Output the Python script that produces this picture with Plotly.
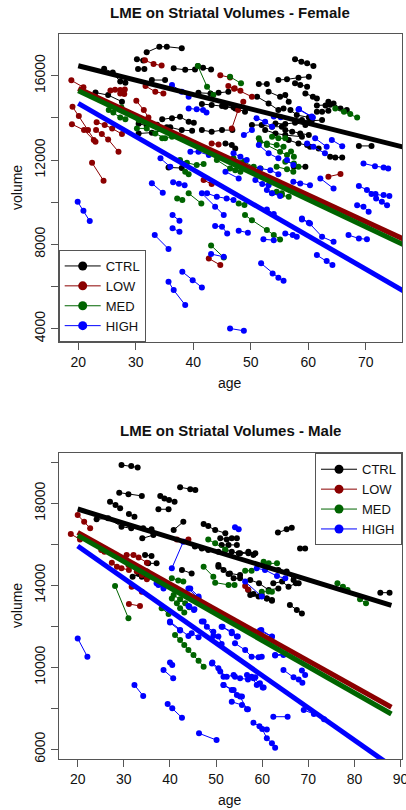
import plotly.graph_objects as go

# ---------------- data ----------------
GROUPS = ["CTRL", "LOW", "MED", "HIGH"]
COLORS = ["#000000", "#8B0000", "#006400", "#0000FF"]

# Female panel: each subject is a list of ages and a list of volumes
F_CTRL_AGE = [[31.9,34.1,35.4,38.0],[30.2,31.3],[30.4,31.5],[36.6,38.6,40.3],[40.8,41.7,43.1],
              [24.5,26.0,27.3,28.2],[32.8,35.1],[23.0,25.2,27.6],[40.9,43.0,44.4,46.1],[41.5,43.2,45.0,47.0],
              [34.6,36.3,37.7,39.2,40.1],[30.5,32.8,35.1],[36.0,38.0,39.8],[35.7,38.0],[45.6,46.7,47.3],
              [57.7,58.8,59.8,60.9],[51.4,52.8],[54.8,56.3,58.3,60.1],[57.7,58.6,59.8],[53.1,55.1,56.0,56.6],
              [59.5,60.8,61.5],[63.5,64.4,65.6,66.7],[61.5,62.4,63.5],[51.1,53.1,54.8,55.7],[45.6,47.3,49.0],
              [50.2,51.9,53.7,55.4],[54.3,56.0,57.7,59.5],[56.0,57.2,58.6,60.1],[52.5,54.3,56.0,58.9],
              [58.9,60.6,62.4],[56.6,58.3,59.8],[60.3,61.8],[56.9,58.0,60.1],[68.8,71.0],[63.8,64.7,65.9],
              [57.5,59.5],[61.5,63.0,63.8],[30.5,31.9,33.7,35.4],[41.5,43.2,45.0,46.8]]
F_CTRL_VOL = [[17110,17376,17376,17300],[16780,16720],[16320,16320],[16350,16280,16300],[16460,16380,16300],
              [16330,16150,15720,15670],[15795,15795],[15200,15080,14770],[15190,15160,15190,15240],[14660,14610,14560,14500],
              [13930,13980,14050,13820,13770],[13260,13300,13420],[13550,13420,13390],[11650,11620],[12790,12710,12550],
              [16776,16665,16586,16460],[15605,15605],[15795,15827,15906,15953],[15637,15558,15479],[15241,15004,15083,14767],
              [15162,15004,14925],[14767,14688,14450,14371],[14292,14292,14340],[15004,14688,14371,14450],[14530,14450,14292],
              [13660,13660,13580,13580],[13739,13707,13770,13660],[13422,13343,13264,13185],[13422,13264,13185,13106],
              [13897,13865,13897],[12947,12789,12710],[12631,12552],[14371,14134,14023],[12670,12670],[12157,12125,12125],
              [11680,11680],[14590,14590,14620],[13716,13640,13670,13560],[13420,13340,13420,13420]]

F_LOW_AGE = [[18.8,20.9],[19.0,20.1,21.7,23.0],[18.9,21.0,22.7],[23.2,24.6,25.9,27.6],[23.1,24.1,25.2,27.0],
             [22.4,24.4],[25.6,26.4,27.3,28.1],[27.3,28.0],[30.1,31.4,32.2],[31.7,33.4,34.8],[31.6,33.1,34.5],
             [44.7,46.4],[46.1,47.1,48.2],[46.7,47.8,48.7],[47.2,50.2],[63.5,65.6],[41.8,43.2],[43.2,44.4],[42.7,44.7]]
F_LOW_VOL = [[15780,15450],[14530,14090,13420,12870],[13700,13420,12950],[13790,13660,13500,13230],[13420,13230,12980,12390],
             [11870,11020],[15300,15330,15320,15350],[15160,15130],[14810,14370,14020],[15510,15240,15160],[16730,16560,16480],
             [16020,15920],[15510,15380,15290],[13500,14370,14770],[15400,15000],[11210,11340],[11050,10860],[12790,12740],[7330,7020]]

F_MED_AGE = [[40.8,42.4,43.5],[46.4,48.3],[64.7,66.2,67.3,68.5],[25.3,26.1,27.3,28.2],[30.2,31.9,33.4,35.1],
             [34.6,36.3,38.6],[38.6,39.2],[51.4,52.8,55.1,56.3],[53.7,54.8,56.0],[47.0,48.8,50.5,51.7],
             [56.0,57.5,58.3],[37.7,38.9,40.6,41.8],[44.1,46.4,47.3,48.2],[51.6,52.8,54.5,55.7],[57.0,57.5],
             [54.5,56.3,57.4],[54.5,55.4],[37.2,38.1],[39.2,41.4],[43.1,45.3],[47.9,48.9],
             [49.0,50.2,52.8,54.0,55.1],[27.5,29.0,30.5],[53.7,55.4,56.6]]
F_MED_VOL = [[16460,15480,15080],[15950,15640],[14450,14290,14180,14020],[14370,14250,14020,13930],[13500,13500,13260,13030],
             [13030,13110,12950],[11450,11330],[13030,12710,12390,12240],[13110,13030,13030],[12080,11920,11680,11600],
             [11920,11840,11680],[12000,11870,11760,11810],[12000,11600,11520,11440],[12870,12790,12710,12630],[12400,12160],
             [11680,11560,11440],[10500,10420],[10180,10100],[10420,9940],[7950,7380],[9940,9870],
             [9390,9150,8680,8440,8235],[14500,14200,13900],[10420,10340,10260]]

F_HIGH_AGE = [[19.9,20.9,22.0],[32.8,34.7],[33.3,35.7],[36.4,37.6],[36.4,37.6],[35.7,36.6,38.6],[38.1,39.9,41.5],
              [43.1,45.3],[43.8,45.0,45.9],[41.5,43.8,45.3],[47.9,49.5],[46.4,48.8],[51.8,53.8,54.8,55.7],
              [52.2,54.0],[56.0,57.3,58.0],[58.9,60.1,62.4,64.4],[61.5,63.2,64.2],[67.0,68.8,70.2],[68.5,69.6,70.5],
              [68.8,70.2,71.7],[71.0,73.1,74.1],[71.8,72.8,73.7],[69.6,71.6,73.1,73.9],[62.1,64.4],[61.2,63.2],
              [64.1,65.9],[58.3,60.8],[48.8,50.2],[51.4,53.1,54.8],[51.6,53.4,54.8],[45.6,47.9],[50.8,52.0,53.1],
              [36.3,38.0,39.2],[39.2,40.6,41.7,42.3],[54.0,55.2],[58.4,60.6],[34.3,36.0],[51.0,52.5,53.7],
              [39.5,40.9,42.7],[47.0,48.2,49.3],[42.4,44.1,45.8,47.0],[52.8,53.7,55.1],[57.4,58.6,60.3],
              [59.8,60.9,62.9],[56.3,57.4],[52.8,54.0],[58.9,60.3],[36.5,37.5,38.5]]
F_HIGH_VOL = [[10020,9595,9105],[10900,10450],[8440,7780],[9390,9120],[8760,8600],[6230,5830,5120],[6700,6300,5960],
              [7540,7410],[8870,8840,8520],[10420,9790,9390],[8650,8550],[4010,3900],[7100,6620,6420,6270],
              [8240,8200],[8520,8440,8360],[9180,9030,8360,8120],[7490,7210,7020],[8440,8280,8240],[9860,9790,9550],
              [10770,10580,10390],[10390,10340,10290],[10180,10020,9860],[11840,11710,11650,11600],[11130,10650],[13030,12630],
              [12950,12660],[14400,14020],[13190,13420],[12710,12320,12080],[11600,11520,11330],[11450,11130],[11050,10860,10810],
              [15560,15240,15000],[14450,14410,14370,14250],[14060,14030],[14420,14060],[12080,11680],[13980,13820,13580],
              [12390,12390,12240],[12320,12160,12000],[10420,10260,10180,10100],[10580,10420,10290],[10970,10890,10810],
              [12790,12630,12320],[12000,11760],[9660,9440],[9230,8990],[10950,10880,10800]]

# Male panel
M_CTRL_AGE = [[29.5,31.6,33.0],[29.0,31.0,33.9],[27.0,28.2,29.2],[31.1,32.3],[37.9,38.8,39.8,41.0],[37.5,39.7],
              [42.2,44.4,45.5],[40.8,42.9],[24.1,26.6,29.5,31.6],[34.2,36.0],[34.0,36.4],[34.6,36.0],[35.3,37.1],
              [31.9,33.2,35.0],[47.3,48.3,49.8,52.0],[50.9,52.3,53.4,54.5],[51.2,52.7,54.5],[45.4,46.9,48.3,50.5],
              [52.0,53.4,54.9,57.0,58.5],[50.5,51.6,52.7,53.8,55.2],[42.6,44.7],[63.4,65.3,66.4],[68.2,69.3],
              [62.4,64.3,65.7,67.3],[66.0,67.5,68.6],[85.6,87.6],[57.0,58.1,59.9,61.0,62.1],[50.5,53.0,55.2],
              [33.9,36.1],[55.2,57.0,58.1],[63.5,65.3,66.8,67.9],[57.4,59.3,61.4,63.5],[57.4,59.2,61.0,62.1]]
M_CTRL_VOL = [[19870,19820,19750],[18520,18440,18360],[18080,17920,17760],[17480,17350],[18360,18240,18160,18080],[17710,17710],
              [18780,18680,18650],[16700,17100],[17220,17270,16860,16780],[16780,16730],[16290,16450],[15480,15430],[15070,15070],
              [14420,14550,14670],[16990,16890,16700,16540],[16290,16240,16290,16290],[15970,15970,15970],[15890,15800,15720,15640],
              [15720,15640,15560,15640,15560],[14910,14750,14550,14340,14340],[14750,14580],[16570,16730,16810],[15800,15800],
              [14100,14180,13930,14100],[13040,12800,12630],[13640,13640],[13770,13580,13530,13360,13250],[14990,14580,14500],
              [14420,14420],[15560,15560,15480],[14750,14670,14260,14100],[14260,14100,13770,13850],[13530,13450,13360,13280]]

M_LOW_AGE = [[20.0,21.4,22.7],[18.5,20.5],[25.1,25.8],[30.6,32.1,33.2,35.0],[27.4,28.5,29.5,31.1],[41.5,44.0],
             [31.7,33.9],[56.3,56.9],[31.0,32.8,33.9,35.0],[31.1,33.5]]
M_LOW_VOL = [[17430,17100,16780],[16500,16240],[15720,15640],[15480,15480,15360,15100],[15100,14910,14830,14750],[16240,16240],
             [13930,13690],[13970,13800],[14990,14670,14500,14290],[13090,12990]]

M_MED_AGE = [[28.1,31.0],[47.3,49.4],[49.8,52.7,54.0],[48.3,49.8,52.0],[56.3,57.7],[60.3,61.4,63.2],[40.4,41.8,42.9],
             [40.8,42.2,43.3,44.2],[76.3,77.5,78.5],[81.2,82.5],[40.4,41.5,42.2,43.1],
             [41.1,42.2,43.1,44.0,45.1,46.2,47.3],[38.2,39.7],[59.9,61.4,62.1]]
M_MED_VOL = [[13970,12390],[14910,14420],[14130,14020,14020],[16240,16050,15750],[14710,14710],[15150,15070,15070],[14340,14230,14180],
             [13530,13320,13120,12930],[14100,13930,13770],[13320,13120],[13360,13120,12880,12670],
             [11580,11330,11090,10840,10600,10320,10030],[12880,12600],[13690,13700,13680]]

M_HIGH_AGE = [[20.0,22.1],[32.3,34.2],[38.6,40.7],[40.0,40.5],[39.5,40.5,42.6],[46.3,50.1],[40.0,42.2],[44.0,45.3],
              [44.7,46.2],[47.3,49.4,50.5,51.2],[49.2,50.5,51.6],[51.6,53.4,54.5,55.6],[53.4,55.6,56.9],
              [51.4,53.4,54.7],[54.1,56.3,57.7,59.2,59.9],[54.1,55.2,56.9,58.5],[57.7,58.8,60.1],[59.5,62.1],
              [62.8,65.0],[64.6,66.8,67.9,68.7],[68.6,69.3],[62.4,65.5],[58.1,59.4,61.0],[60.0,61.0,62.1,62.8],
              [69.0,71.2,73.4],[49.1,50.9,52.3,53.8],[51.6,53.8,55.2,56.7],[56.7,58.1,59.5,60.3],[62.8,64.6],
              [54.1,54.9],[58.8,60.6,63.2,65.0],[56.3,59.9],[59.8,62.1],[37.5,38.6],[44.4,46.2],[40.4,42.9],
              [37.1,38.6],[44.0,46.2],[44.2,45.2],[40.0,42.2,44.0],[46.9,48.0,49.4],[51.2,53.4,54.5]]
M_HIGH_VOL = [[11410,10520],[9140,8600],[9870,9460],[10230,10110],[8210,8000,7540],[6780,6450],[12180,11790],[12990,12830],
              [11660,11460],[12230,11530,11500,11140],[10230,9950,9540],[9140,8890,8650,8570],[8320,8160,7950],
              [11980,11660,11500],[11170,10840,10520,10490,10520],[9540,9460,9410,9510],[9540,9140,9020],[11790,11500],
              [10600,10650],[9870,9510,9410,9250],[9840,9630],[7590,7590],[7300,7130,6970],[6990,6540,6290,6080],
              [7920,7720,7460],[10190,9790,9540,9620],[9140,8890,8570,7950],[9620,9460,9220,9020],[10570,10600],
              [16830,16730],[14830,14750,14450,14340],[14180,13450],[11820,11490],[14020,13930],[13850,13450],[14830,16130],
              [14100,13850],[13850,13360],[12960,12800],[12230,11820,11530],[12230,11980,11740],[11980,11740,11500]]

# fitted lines (age endpoints and fitted volumes)
REG_AGE = [20, 88]
F_REG = {"CTRL": [16474, 11830], "LOW": [15390, 6808], "MED": [15290, 6504], "HIGH": [14690, 3994]}
M_REG = {"CTRL": [17722, 13024], "LOW": [16584, 8049], "MED": [16437, 7722], "HIGH": [15917, 5180]}

F_XTICKS = [20, 30, 40, 50, 60, 70]
F_YTICKS = [4000, 6000, 8000, 10000, 12000, 14000, 16000]
F_YTEXT = ["4000", "", "8000", "", "12000", "", "16000"]
M_XTICKS = [20, 30, 40, 50, 60, 70, 80, 90]
M_YTICKS = [6000, 8000, 10000, 12000, 14000, 16000, 18000, 20000]
M_YTEXT = ["6000", "", "10000", "", "14000", "", "18000", ""]

F_XRANGE = [16.6, 76.3]
F_YRANGE = [3369, 17979]
M_XRANGE = [15.88, 90.3]
M_YRANGE = [5527, 20439]

FONT = "Liberation Sans, Arial, Helvetica, sans-serif"


def flatten(ages, vols):
    xs, ys = [], []
    for a, v in zip(ages, vols):
        xs += list(a) + [None]
        ys += list(v) + [None]
    return xs, ys


fig = go.Figure()

female = [(F_CTRL_AGE, F_CTRL_VOL), (F_LOW_AGE, F_LOW_VOL), (F_MED_AGE, F_MED_VOL), (F_HIGH_AGE, F_HIGH_VOL)]
male = [(M_CTRL_AGE, M_CTRL_VOL), (M_LOW_AGE, M_LOW_VOL), (M_MED_AGE, M_MED_VOL), (M_HIGH_AGE, M_HIGH_VOL)]

for panel, (groups, reg, xa, ya, leg) in enumerate([
        (female, F_REG, "x", "y", "legend"),
        (male, M_REG, "x2", "y2", "legend2")]):
    for g, (ages, vols) in enumerate(groups):
        xs, ys = flatten(ages, vols)
        fig.add_trace(go.Scatter(x=xs, y=ys, mode="lines+markers", xaxis=xa, yaxis=ya,
                                 line=dict(color=COLORS[g], width=1),
                                 marker=dict(color=COLORS[g], size=6),
                                 showlegend=False, hoverinfo="skip"))
    for g, name in enumerate(GROUPS):
        fig.add_trace(go.Scatter(x=REG_AGE, y=reg[name], mode="lines", xaxis=xa, yaxis=ya,
                                 line=dict(color=COLORS[g], width=5),
                                 showlegend=False, hoverinfo="skip"))
    for g, name in enumerate(GROUPS):
        fig.add_trace(go.Scatter(x=[None], y=[None], mode="lines+markers", name=name,
                                 xaxis=xa, yaxis=ya, legend=leg,
                                 line=dict(color=COLORS[g], width=1),
                                 marker=dict(color=COLORS[g], size=9)))

axis_common = dict(showline=True, mirror=True, linecolor="#555", linewidth=1,
                   ticks="outside", ticklen=7, tickcolor="#555", showgrid=False,
                   zeroline=False, automargin=False, ticklabeloverflow="allow",
                   tickfont=dict(family=FONT, size=14, color="#111"))

W, H = 406, 810
xdom = [58.7 / W, 402 / W]

legend_common = dict(bordercolor="#555", borderwidth=1, bgcolor="white", itemwidth=36,
                     font=dict(family=FONT, size=13, color="#111"), tracegroupgap=0)

fig.update_layout(
    width=W, height=H, margin=dict(l=0, r=0, t=0, b=0, autoexpand=False),
    paper_bgcolor="white", plot_bgcolor="white",
    font=dict(family=FONT, size=14, color="#111"),
    xaxis=dict(domain=xdom, range=F_XRANGE, tickvals=F_XTICKS, anchor="y", **axis_common),
    yaxis=dict(domain=[1 - 342 / H, 1 - 34 / H], range=F_YRANGE, tickvals=F_YTICKS, ticktext=F_YTEXT,
               tickangle=-90, anchor="x", **axis_common),
    xaxis2=dict(domain=xdom, range=M_XRANGE, tickvals=M_XTICKS, anchor="y2", **axis_common),
    yaxis2=dict(domain=[1 - 759 / H, 1 - 453.3 / H], range=M_YRANGE, tickvals=M_YTICKS, ticktext=M_YTEXT,
                tickangle=-90, anchor="x2", **axis_common),
    legend=dict(x=58.7 / W, y=1 - 342 / H, xanchor="left", yanchor="bottom", **legend_common),
    legend2=dict(x=402 / W, y=1 - 453.3 / H, xanchor="right", yanchor="top", **legend_common),
    showlegend=True,
)

xc = (xdom[0] + xdom[1]) / 2
annots = [
    dict(text="<b>LME on Striatal Volumes - Female</b>", x=xc, y=1 - 12.5 / H, font=dict(size=15)),
    dict(text="<b>LME on Striatal Volumes - Male</b>", x=xc, y=1 - 430 / H, font=dict(size=15)),
    dict(text="age", x=xc, y=1 - 382.5 / H, font=dict(size=14)),
    dict(text="age", x=xc, y=1 - 800 / H, font=dict(size=14)),
    dict(text="volume", x=17 / W, y=1 - 188 / H, textangle=-90, font=dict(size=14)),
    dict(text="volume", x=17 / W, y=1 - 606 / H, textangle=-90, font=dict(size=14)),
]
for a in annots:
    fig.add_annotation(xref="paper", yref="paper", showarrow=False, xanchor="center", yanchor="middle",
                       **{k: v for k, v in a.items() if k != "font"},
                       font=dict(family=FONT, color="#111", **a["font"]))

fig.write_html("out.html", config={"displayModeBar": False},
               post_script="document.body.style.margin='0px';")
